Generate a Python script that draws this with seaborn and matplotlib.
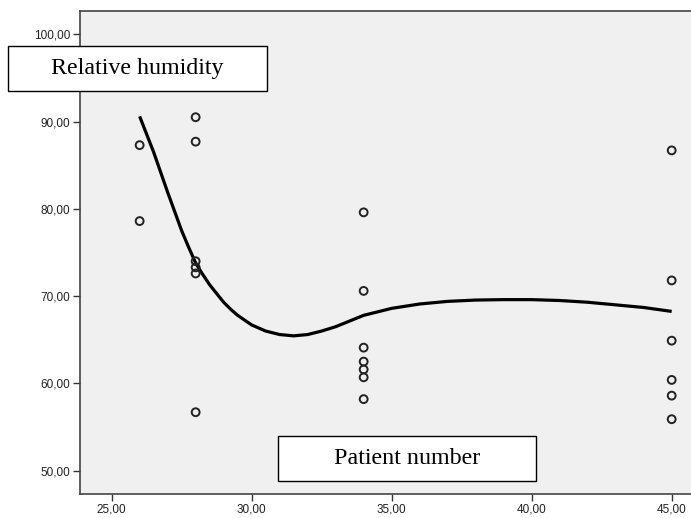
import numpy as np
import pandas as pd
import seaborn as sns
import matplotlib
matplotlib.use("Agg")
import matplotlib.pyplot as plt
from matplotlib.patches import Rectangle
from matplotlib.ticker import FuncFormatter

# observed points (patient number vs relative humidity)
patient = [26, 26,
           28, 28, 28, 28, 28, 28,
           34, 34, 34, 34, 34, 34, 34,
           45, 45, 45, 45, 45, 45]
humidity = [87.3, 78.6,
            90.5, 87.7, 74.0, 73.3, 72.6, 56.7,
            79.6, 70.6, 64.1, 62.5, 61.6, 60.7, 58.2,
            86.7, 71.8, 64.9, 60.4, 58.6, 55.9]

# fit line
fit_x = [26, 26.5, 27, 27.5, 27.75, 28, 28.25, 28.5, 28.75, 29, 29.25, 29.5, 30,
         30.5, 31, 31.5, 32, 32.5, 33, 33.5, 34, 35, 36, 37, 38, 39, 40, 41, 42,
         43, 44, 45]
fit_y = [90.6, 86.5, 81.9, 77.5, 75.6, 73.8, 72.5, 71.3, 70.3, 69.3, 68.5, 67.8, 66.7,
         66.0, 65.6, 65.45, 65.6, 66.0, 66.5, 67.15, 67.8, 68.6, 69.1, 69.4, 69.55, 69.6,
         69.6, 69.5, 69.3, 69.0, 68.7, 68.25]

x_ticks = [25, 30, 35, 40, 45]
y_ticks = [50, 60, 70, 80, 90, 100]

pts = pd.DataFrame({"patient": patient, "humidity": humidity})
fit = pd.DataFrame({"x": fit_x, "y": fit_y})

W, H = 691, 518
fig = plt.figure(figsize=(W / 100, H / 100), dpi=100)
ax = fig.add_axes([80 / W, (H - 494) / H, (W - 80) / W, (494 - 11) / H])
ax.set_facecolor("#f0f0f0")

sns.lineplot(data=fit, x="x", y="y", ax=ax, color="black", linewidth=2.3, zorder=3,
             solid_joinstyle="round", solid_capstyle="butt")
sns.scatterplot(data=pts, x="patient", y="humidity", ax=ax, s=32, marker="o",
                facecolor="none", edgecolor="#222222", linewidth=1.4, zorder=4)

ax.set_xlim(23.87, 45.69)
ax.set_ylim(47.33, 102.67)
ax.set_xticks(x_ticks)
ax.set_yticks(y_ticks)
fmt = FuncFormatter(lambda v, p: f"{v:.2f}".replace(".", ","))
ax.xaxis.set_major_formatter(fmt)
ax.yaxis.set_major_formatter(fmt)
ax.tick_params(length=5, width=1, color="#333333", labelsize=8.5, labelcolor="#222222", pad=2)
for lbl in ax.get_xticklabels() + ax.get_yticklabels():
    lbl.set_fontfamily("Liberation Sans")
ax.set_xlabel("")
ax.set_ylabel("")
for side in ["left", "bottom", "top"]:
    ax.spines[side].set_color("#444444")
    ax.spines[side].set_linewidth(1.2)
ax.spines["right"].set_visible(False)


def label_box(x0, y0, x1, y1, text):
    fig.patches.append(Rectangle((x0 / W, (H - y1) / H), (x1 - x0) / W, (y1 - y0) / H,
                                 transform=fig.transFigure, facecolor="white",
                                 edgecolor="black", linewidth=1, zorder=5))
    fig.text((x0 + x1) / 2 / W, (H - (y0 + y1) / 2) / H, text, ha="center", va="center",
             fontsize=17.3, family="Liberation Serif", zorder=6)


label_box(8, 46, 267, 91, "Relative humidity")
label_box(278, 436, 536, 481, "Patient number")

plt.savefig("out.png", dpi=100)
plt.close()
